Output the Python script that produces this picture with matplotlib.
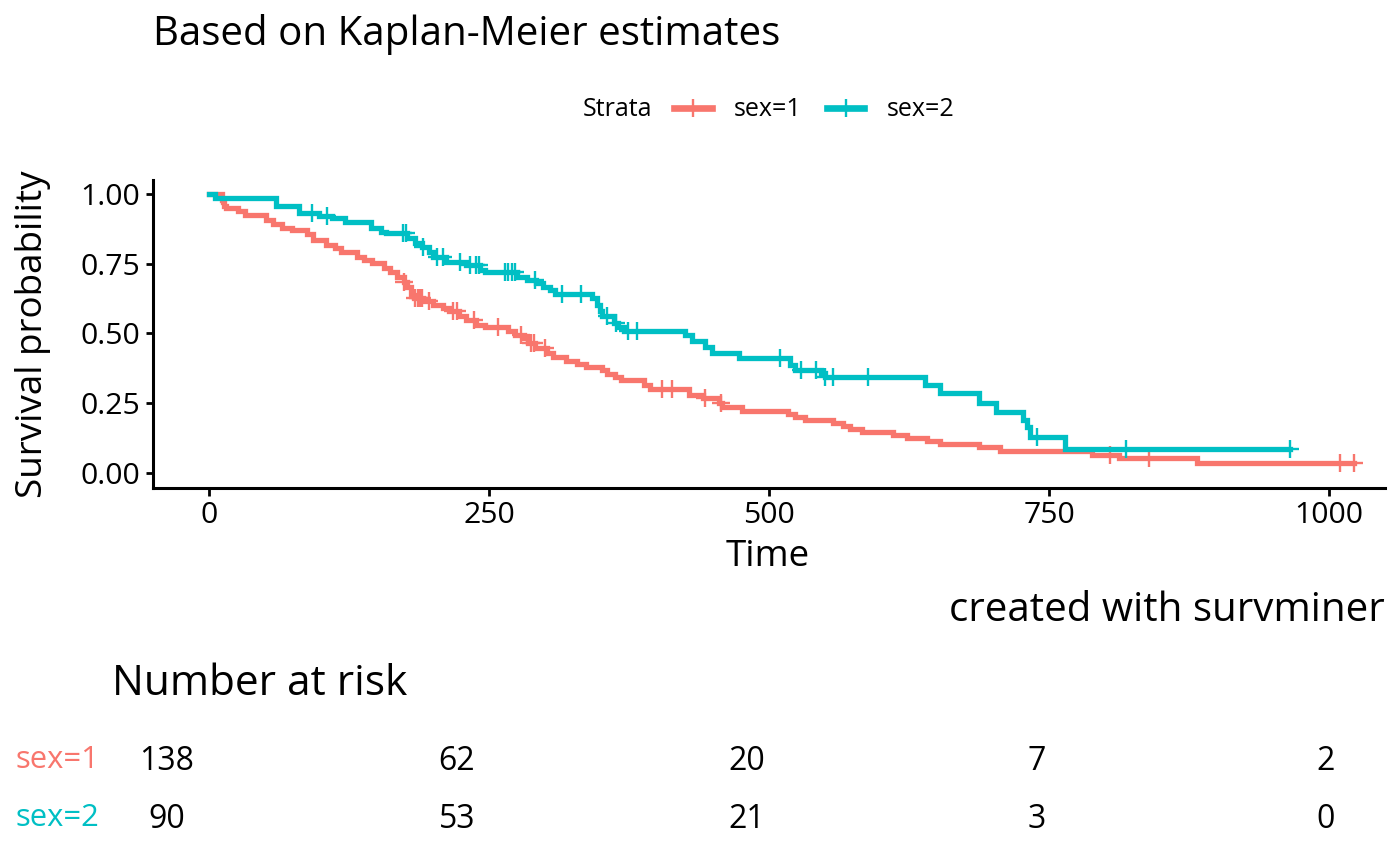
import numpy as np
import matplotlib.pyplot as plt
from matplotlib.lines import Line2D

plt.rcParams['font.family'] = ['Open Sans', 'DejaVu Sans']

strata = ['sex=1', 'sex=2']
colors = ['#F8766D', '#00BFC4']

# Kaplan-Meier steps: time of each drop, survival after it
male_time = [0, 11, 12, 13, 15, 26, 32, 51, 57, 65, 74, 87, 93, 104, 112, 118,
             132, 138, 145, 156, 161, 168, 174, 177, 180, 183, 191, 200, 209,
             214, 223, 229, 238, 246, 267, 273, 281, 285, 291, 302, 307, 319,
             328, 336, 351, 355, 362, 368, 388, 394, 428, 441, 455, 458, 476,
             517, 523, 532, 557, 566, 572, 583, 611, 623, 641, 653, 687, 706,
             788, 812, 882]
male_surv = [1.0, 0.978, 0.971, 0.957, 0.949, 0.938, 0.926, 0.908, 0.893, 0.878,
             0.872, 0.857, 0.836, 0.818, 0.806, 0.794, 0.776, 0.764, 0.752, 0.734,
             0.722, 0.704, 0.686, 0.668, 0.638, 0.627, 0.615, 0.603, 0.591, 0.579,
             0.561, 0.549, 0.531, 0.522, 0.507, 0.495, 0.483, 0.465, 0.447, 0.429,
             0.415, 0.402, 0.391, 0.380, 0.367, 0.355, 0.343, 0.331, 0.315, 0.300,
             0.279, 0.267, 0.249, 0.237, 0.223, 0.211, 0.199, 0.189, 0.180, 0.168,
             0.156, 0.146, 0.134, 0.124, 0.115, 0.103, 0.091, 0.079, 0.064, 0.052,
             0.036]
male_last = 1022
male_censor = [174, 184, 186, 188, 190, 196, 218, 221, 236, 258, 278, 287, 290,
               300, 404, 413, 443, 457, 804, 839, 1010, 1022]

female_time = [0, 5, 60, 80, 98, 110, 121, 144, 153, 158, 177, 184, 190, 196,
               200, 211, 229, 242, 246, 275, 284, 292, 298, 304, 309, 342, 346,
               349, 351, 361, 365, 370, 425, 431, 443, 449, 473, 519, 523, 546,
               550, 639, 653, 687, 703, 727, 730, 733, 764]
female_surv = [1.0, 0.988, 0.956, 0.932, 0.920, 0.914, 0.900, 0.878, 0.866, 0.860,
               0.842, 0.824, 0.812, 0.794, 0.776, 0.758, 0.746, 0.728, 0.719, 0.704,
               0.692, 0.680, 0.668, 0.656, 0.642, 0.627, 0.603, 0.579, 0.561, 0.537,
               0.522, 0.510, 0.495, 0.474, 0.453, 0.431, 0.411, 0.387, 0.369, 0.357,
               0.343, 0.315, 0.285, 0.249, 0.219, 0.189, 0.165, 0.129, 0.085]
female_last = 965
female_censor = [92, 105, 173, 176, 191, 203, 209, 224, 233, 238, 241, 264, 267,
                 270, 273, 291, 315, 332, 355, 363, 374, 382, 510, 528, 542, 550,
                 557, 588, 739, 819, 965]

risk_times = [0, 250, 500, 750, 1000]
risk_male = [138, 62, 20, 7, 2]
risk_female = [90, 53, 21, 3, 0]

W, H = 1400, 866
fig = plt.figure(figsize=(14, 8.66), dpi=100)

# main survival panel
ax = fig.add_axes([153.3 / W, 1 - 487.7 / H, (1385 - 153.3) / W, (487.7 - 180) / H])

groups = [(male_time, male_surv, male_last, male_censor),
          (female_time, female_surv, female_last, female_censor)]
for (t, s, last, cens), col in zip(groups, colors):
    ax.step(t + [last], s + [s[-1]], where='post', color=col, lw=3.8,
            solid_joinstyle='miter')
    idx = np.searchsorted(t, cens, side='right') - 1
    ax.plot(cens, np.array(s)[idx], ls='none', marker='+', ms=12.5, mew=1.7,
            color=col)

ax.set_xlim(-50, 1050)
ax.set_ylim(-0.054, 1.051)
ax.set_xticks([0, 250, 500, 750, 1000])
ax.set_yticks([0, 0.25, 0.5, 0.75, 1.0])
ax.set_yticklabels(['0.00', '0.25', '0.50', '0.75', '1.00'])
for side in ['top', 'right']:
    ax.spines[side].set_visible(False)
for side in ['left', 'bottom']:
    ax.spines[side].set_linewidth(2.2)
ax.tick_params(axis='both', length=5.4, width=2.0, labelsize=21.8, pad=4)

fig.text(51 / W, 1 - 334 / H, 'Survival probability', rotation=90,
         ha='right', va='center', fontsize=26.5)
fig.text(768 / W, 1 - 566 / H, 'Time', ha='center', va='baseline', fontsize=26.5)
fig.text(153 / W, 1 - 45 / H, 'Based on Kaplan-Meier estimates', ha='left',
         va='baseline', fontsize=29)
fig.text(1385 / W, 1 - 621 / H, 'created with survminer', ha='right',
         va='baseline', fontsize=29)

# legend on top
handles = [Line2D([], [], color=c, lw=4.8, marker='+', ms=13, mew=1.7)
           for c in colors]
fig.text(583 / W, 1 - 110 / H, 'Strata', ha='left', va='center', fontsize=18)
fig.legend(handles, strata, loc='center left', bbox_to_anchor=(674 / W, 1 - 110 / H),
           ncol=2, frameon=False, fontsize=18, handlelength=1.5,
           handletextpad=0.9, columnspacing=1.0, borderpad=0, borderaxespad=0)

# risk table
fig.text(111.7 / W, 1 - 695 / H, 'Number at risk', ha='left', va='baseline',
         fontsize=30.5)
ax2 = fig.add_axes([109 / W, 1 - 844 / H, (1384 - 109) / W, 116 / H])
ax2.set_xlim(-50, 1050)
ax2.set_ylim(1.5, -0.5)
for row, counts in enumerate([risk_male, risk_female]):
    for x, n in zip(risk_times, counts):
        ax2.text(x, row, str(n), ha='center', va='center_baseline', fontsize=23)
ax2.set_yticks([0, 1])
ax2.set_yticklabels(strata, fontsize=22.3)
for lab, col in zip(ax2.get_yticklabels(), colors):
    lab.set_color(col)
ax2.tick_params(axis='y', length=0, pad=7)
ax2.set_xticks([])
for sp in ax2.spines.values():
    sp.set_visible(False)

fig.savefig('out.png', dpi=100)
